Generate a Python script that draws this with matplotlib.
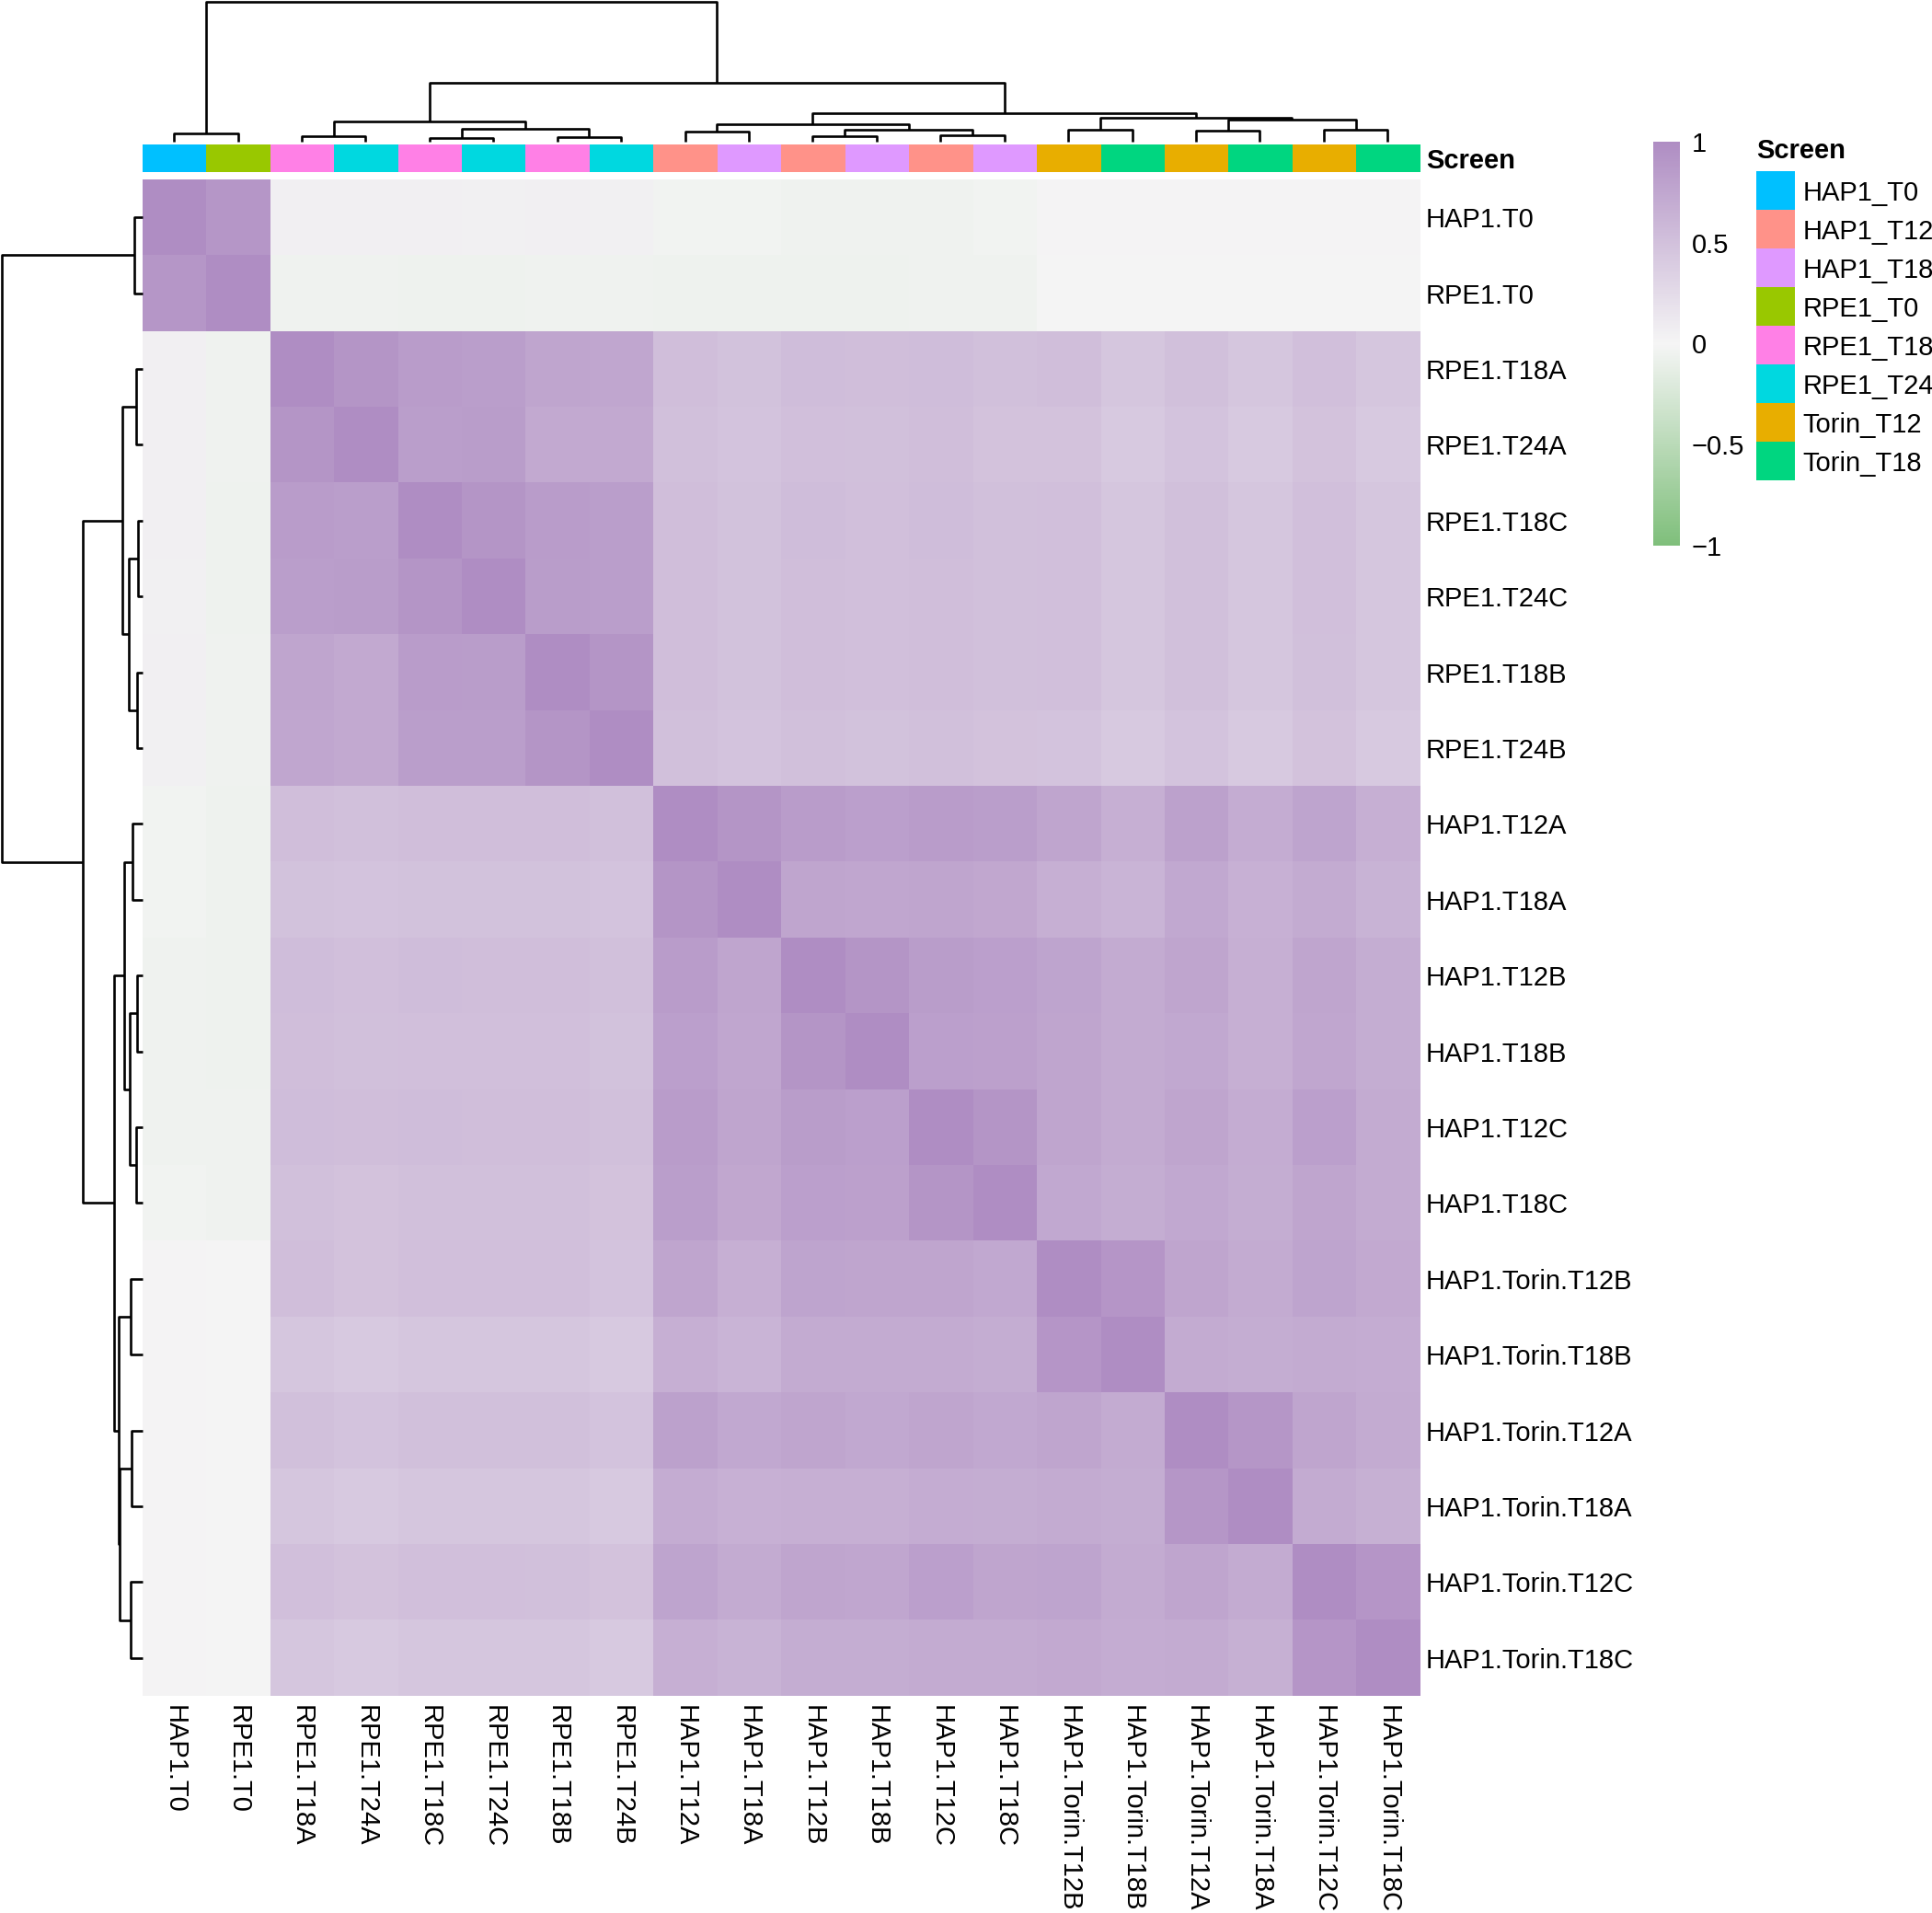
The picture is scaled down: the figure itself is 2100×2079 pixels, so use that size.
import numpy as np
import matplotlib
matplotlib.use('Agg')
import matplotlib.pyplot as plt
from matplotlib.colors import LinearSegmentedColormap, ListedColormap

plt.rcParams['font.family'] = ['Liberation Sans', 'DejaVu Sans']

#%% DATA
samples = ['HAP1.T0', 'RPE1.T0', 'RPE1.T18A', 'RPE1.T24A', 'RPE1.T18C', 'RPE1.T24C',
           'RPE1.T18B', 'RPE1.T24B', 'HAP1.T12A', 'HAP1.T18A', 'HAP1.T12B', 'HAP1.T18B',
           'HAP1.T12C', 'HAP1.T18C', 'HAP1.Torin.T12B', 'HAP1.Torin.T18B',
           'HAP1.Torin.T12A', 'HAP1.Torin.T18A', 'HAP1.Torin.T12C', 'HAP1.Torin.T18C']

screens = ['HAP1_T0', 'HAP1_T12', 'HAP1_T18', 'RPE1_T0', 'RPE1_T18', 'RPE1_T24',
           'Torin_T12', 'Torin_T18']
screen_colors = ['#00C0FF', '#FF9289', '#DF99FF', '#99C800', '#FF80E6', '#00D8E0',
                 '#E8AE00', '#00D680']
sample_screen = ['HAP1_T0', 'RPE1_T0', 'RPE1_T18', 'RPE1_T24', 'RPE1_T18', 'RPE1_T24',
                 'RPE1_T18', 'RPE1_T24', 'HAP1_T12', 'HAP1_T18', 'HAP1_T12', 'HAP1_T18',
                 'HAP1_T12', 'HAP1_T18', 'Torin_T12', 'Torin_T18', 'Torin_T12', 'Torin_T18',
                 'Torin_T12', 'Torin_T18']

corr = [
    [1.00, 0.90, 0.05, 0.05, 0.05, 0.04, 0.05, 0.04, -0.03, -0.03, -0.04, -0.04, -0.04, -0.03, 0.01, 0.01, 0.01, 0.01, 0.01, 0.01],
    [0.90, 1.00, -0.04, -0.04, -0.05, -0.05, -0.04, -0.04, -0.05, -0.05, -0.05, -0.05, -0.04, -0.04, 0.00, 0.00, 0.00, 0.00, 0.00, 0.00],
    [0.05, -0.04, 1.00, 0.92, 0.85, 0.83, 0.76, 0.75, 0.52, 0.49, 0.53, 0.52, 0.53, 0.50, 0.52, 0.45, 0.50, 0.45, 0.51, 0.45],
    [0.05, -0.04, 0.92, 1.00, 0.83, 0.84, 0.72, 0.72, 0.50, 0.47, 0.51, 0.50, 0.52, 0.48, 0.48, 0.42, 0.47, 0.42, 0.48, 0.42],
    [0.05, -0.05, 0.85, 0.83, 1.00, 0.92, 0.85, 0.83, 0.52, 0.49, 0.53, 0.51, 0.53, 0.50, 0.51, 0.45, 0.50, 0.44, 0.51, 0.45],
    [0.04, -0.05, 0.83, 0.84, 0.92, 1.00, 0.84, 0.83, 0.52, 0.49, 0.52, 0.51, 0.52, 0.50, 0.51, 0.45, 0.50, 0.44, 0.51, 0.45],
    [0.05, -0.04, 0.76, 0.72, 0.85, 0.84, 1.00, 0.92, 0.52, 0.49, 0.52, 0.51, 0.52, 0.50, 0.51, 0.45, 0.50, 0.45, 0.50, 0.45],
    [0.04, -0.04, 0.75, 0.72, 0.83, 0.83, 0.92, 1.00, 0.50, 0.47, 0.50, 0.49, 0.50, 0.48, 0.47, 0.42, 0.47, 0.42, 0.48, 0.42],
    [-0.03, -0.05, 0.52, 0.50, 0.52, 0.52, 0.52, 0.50, 1.00, 0.92, 0.85, 0.82, 0.85, 0.83, 0.76, 0.67, 0.80, 0.69, 0.77, 0.67],
    [-0.03, -0.05, 0.49, 0.47, 0.49, 0.49, 0.49, 0.47, 0.92, 1.00, 0.76, 0.75, 0.76, 0.74, 0.67, 0.61, 0.73, 0.65, 0.70, 0.63],
    [-0.04, -0.05, 0.53, 0.51, 0.53, 0.52, 0.52, 0.50, 0.85, 0.76, 1.00, 0.92, 0.84, 0.82, 0.77, 0.70, 0.76, 0.67, 0.76, 0.68],
    [-0.04, -0.05, 0.52, 0.50, 0.51, 0.51, 0.51, 0.49, 0.82, 0.75, 0.92, 1.00, 0.82, 0.81, 0.76, 0.70, 0.73, 0.67, 0.75, 0.68],
    [-0.04, -0.04, 0.53, 0.52, 0.53, 0.52, 0.52, 0.50, 0.85, 0.76, 0.84, 0.82, 1.00, 0.92, 0.76, 0.70, 0.76, 0.69, 0.82, 0.71],
    [-0.03, -0.04, 0.50, 0.48, 0.50, 0.50, 0.50, 0.48, 0.83, 0.74, 0.82, 0.81, 0.92, 1.00, 0.73, 0.68, 0.73, 0.68, 0.76, 0.71],
    [0.01, 0.00, 0.52, 0.48, 0.51, 0.51, 0.51, 0.47, 0.76, 0.67, 0.77, 0.76, 0.76, 0.73, 1.00, 0.91, 0.76, 0.70, 0.77, 0.72],
    [0.01, 0.00, 0.45, 0.42, 0.45, 0.45, 0.45, 0.42, 0.67, 0.61, 0.70, 0.70, 0.70, 0.68, 0.91, 1.00, 0.70, 0.68, 0.71, 0.69],
    [0.01, 0.00, 0.50, 0.47, 0.50, 0.50, 0.50, 0.47, 0.80, 0.73, 0.76, 0.73, 0.76, 0.73, 0.76, 0.70, 1.00, 0.90, 0.76, 0.70],
    [0.01, 0.00, 0.45, 0.42, 0.44, 0.44, 0.45, 0.42, 0.69, 0.65, 0.67, 0.67, 0.69, 0.68, 0.70, 0.68, 0.90, 1.00, 0.70, 0.66],
    [0.01, 0.00, 0.51, 0.48, 0.51, 0.51, 0.50, 0.48, 0.77, 0.70, 0.76, 0.75, 0.82, 0.76, 0.77, 0.71, 0.76, 0.70, 1.00, 0.91],
    [0.01, 0.00, 0.45, 0.42, 0.45, 0.45, 0.45, 0.42, 0.67, 0.63, 0.68, 0.68, 0.71, 0.71, 0.72, 0.69, 0.70, 0.66, 0.91, 1.00],
]

# hierarchical merges (left, right, height); ids >= 20 are earlier merges, root height = 1
merges = [
    (4, 5, 0.028), (6, 7, 0.035), (10, 11, 0.037), (2, 3, 0.041), (12, 13, 0.044),
    (0, 1, 0.059), (8, 9, 0.072), (16, 17, 0.076), (14, 15, 0.083), (18, 19, 0.083),
    (22, 24, 0.087), (20, 21, 0.094), (26, 30, 0.127), (23, 31, 0.142), (27, 29, 0.159),
    (28, 34, 0.170), (32, 35, 0.203), (33, 36, 0.421), (25, 37, 1.000),
]


def dendro_segments(merges, n):
    pos = {i: i + 0.5 for i in range(n)}
    hgt = {i: 0.0 for i in range(n)}
    segs = []
    for k, (a, b, h) in enumerate(merges):
        segs.append(([pos[a], pos[a], pos[b], pos[b]], [hgt[a], h, h, hgt[b]]))
        pos[n + k] = (pos[a] + pos[b]) / 2
        hgt[n + k] = h
    return segs


#%% LAYOUT (pixel boxes on a 2100x2079 canvas)
W, H = 2100, 2079


def box(x0, y0, x1, y1):
    return [x0 / W, 1 - y1 / H, (x1 - x0) / W, (y1 - y0) / H]


FS = 21
LW = 1.9
fig = plt.figure(figsize=(W / 100, H / 100), dpi=100)
fig.patch.set_facecolor('white')

cmap = LinearSegmentedColormap.from_list('prgn3', ['#7FBF7B', '#F5F5F5', '#AF8DC3'])
n = len(samples)

# heatmap
ax_hm = fig.add_axes(box(154.5, 195, 1543, 1843))
im = ax_hm.imshow(np.array(corr), cmap=cmap, vmin=-1, vmax=1, aspect='auto',
                  extent=(0, n, n, 0), interpolation='nearest')
ax_hm.set_xticks(np.arange(n) + 0.5)
ax_hm.set_xticklabels(samples, rotation=270, fontsize=FS)
ax_hm.yaxis.tick_right()
ax_hm.set_yticks(np.arange(n) + 0.5)
ax_hm.set_yticklabels(samples, fontsize=FS)
ax_hm.tick_params(axis='x', length=0, pad=7)
ax_hm.tick_params(axis='y', length=0, pad=5)
for s in ax_hm.spines.values():
    s.set_visible(False)

# column annotation bar
ax_ann = fig.add_axes(box(154.5, 157, 1543, 187))
ann_idx = np.array([[screens.index(s) for s in sample_screen]])
ax_ann.imshow(ann_idx, cmap=ListedColormap(screen_colors), vmin=-0.5, vmax=len(screens) - 0.5,
              aspect='auto', extent=(0, n, 1, 0), interpolation='nearest')
ax_ann.set_xticks([])
ax_ann.yaxis.tick_right()
ax_ann.set_yticks([0.5])
ax_ann.set_yticklabels(['Screen'], fontsize=FS, fontweight='bold')
ax_ann.tick_params(axis='y', length=0, pad=5)
for s in ax_ann.spines.values():
    s.set_visible(False)

# column dendrogram
ax_cd = fig.add_axes(box(154.5, 2, 1543, 154))
for xs, ys in dendro_segments(merges, n):
    ax_cd.plot(xs, ys, color='black', lw=LW, clip_on=False, solid_capstyle='butt')
ax_cd.set_xlim(0, n)
ax_cd.set_ylim(0, 1)
ax_cd.axis('off')

# row dendrogram
ax_rd = fig.add_axes(box(2, 195, 154.5, 1843))
for xs, ys in dendro_segments(merges, n):
    ax_rd.plot(ys, xs, color='black', lw=LW, clip_on=False, solid_capstyle='butt')
ax_rd.set_ylim(n, 0)
ax_rd.set_xlim(1, 0)
ax_rd.axis('off')

# colour bar
ax_cb = fig.add_axes(box(1797, 154, 1826, 593))
cb = fig.colorbar(im, cax=ax_cb, ticks=[-1, -0.5, 0, 0.5, 1])
cb.set_ticklabels(['\u22121', '\u22120.5', '0', '0.5', '1'])
cb.outline.set_visible(False)
ax_cb.tick_params(length=0, pad=9, labelsize=FS)

# annotation legend
ax_lg = fig.add_axes(box(1909, 186, 1951, 522))
ax_lg.barh(np.arange(len(screens)), [1] * len(screens), height=1, color=screen_colors)
ax_lg.set_xlim(0, 1)
ax_lg.set_ylim(len(screens) - 0.5, -0.5)
ax_lg.set_xticks([])
ax_lg.yaxis.tick_right()
ax_lg.set_yticks(np.arange(len(screens)))
ax_lg.set_yticklabels(screens, fontsize=FS)
ax_lg.tick_params(axis='y', length=0, pad=6)
for s in ax_lg.spines.values():
    s.set_visible(False)
ax_lg.text(0, 1.065, 'Screen', transform=ax_lg.transAxes, fontsize=FS, fontweight='bold',
           ha='left', va='center')

fig.savefig('out.png', dpi=100, facecolor='white')
